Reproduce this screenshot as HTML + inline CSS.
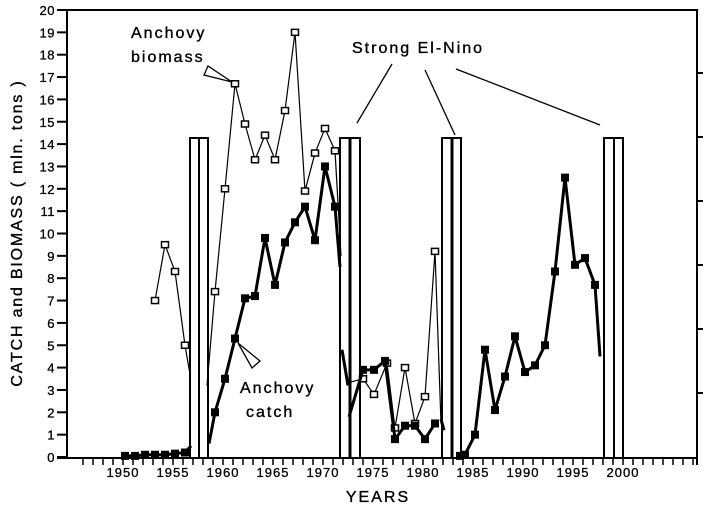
<!DOCTYPE html>
<html><head><meta charset="utf-8"><style>
html,body{margin:0;padding:0;background:#fff;}
svg{display:block;font-family:"Liberation Sans",Arial,sans-serif;}
</style></head><body>
<svg width="713" height="506" viewBox="0 0 713 506" xmlns="http://www.w3.org/2000/svg">
<rect width="713" height="506" fill="#fff"/>
<polyline points="67,10 697,10 697,458" fill="none" stroke="#000" stroke-width="2"/>
<line x1="67" y1="10" x2="67" y2="458" stroke="#000" stroke-width="2"/>
<line x1="57" y1="458" x2="697" y2="458" stroke="#000" stroke-width="2"/>
<g stroke="#000" stroke-width="2">
<line x1="697" y1="73" x2="703" y2="73"/><line x1="697" y1="137" x2="703" y2="137"/>
<line x1="697" y1="201" x2="703" y2="201"/><line x1="697" y1="265" x2="703" y2="265"/>
<line x1="697" y1="329" x2="703" y2="329"/><line x1="697" y1="393" x2="703" y2="393"/>
<line x1="697" y1="458" x2="697" y2="465"/>
</g>
<g id="yt" stroke="#000" stroke-width="2"></g>
<g id="ytl" font-size="13" text-anchor="end" fill="#000" stroke="#000" stroke-width="0.3" letter-spacing="0.5"></g>
<g id="xt" stroke="#000" stroke-width="1.5"></g>
<g id="xtl" font-size="13" text-anchor="middle" fill="#000" stroke="#000" stroke-width="0.3" letter-spacing="1"></g>
<g fill="none" stroke="#000" stroke-width="2">
<rect x="190" y="138" width="9" height="320"/><rect x="199" y="138" width="9" height="320"/>
<rect x="340" y="138" width="10" height="320"/><rect x="350" y="138" width="10" height="320"/>
<rect x="442" y="138" width="10" height="320"/><rect x="452" y="138" width="9" height="320"/>
<rect x="604" y="138" width="10" height="320"/><rect x="614" y="138" width="9" height="320"/>
</g>
<line x1="350" y1="138" x2="350" y2="458" stroke="#000" stroke-width="3"/>
<line x1="452" y1="138" x2="452" y2="458" stroke="#000" stroke-width="3"/>
<g id="series"></g>
<g font-size="16" fill="#000" stroke="#000" stroke-width="0.35">
<text x="131" y="38" letter-spacing="2">Anchovy</text>
<text x="131" y="62" letter-spacing="2">biomass</text>
<text x="352" y="53" letter-spacing="2">Strong  El-Nino</text>
<text x="240" y="393" letter-spacing="2">Anchovy</text>
<text x="246" y="417" letter-spacing="2">catch</text>
<text x="378" y="502" text-anchor="middle" letter-spacing="2">YEARS</text>
<text transform="translate(22,233) rotate(-90)" text-anchor="middle" letter-spacing="1.8">CATCH and BIOMASS ( mln. tons )</text>
</g>
<g stroke="#000" stroke-width="1.3" fill="none">
<line x1="392" y1="64" x2="357" y2="123"/>
<line x1="425" y1="70" x2="455" y2="135"/>
<line x1="456" y1="69" x2="600" y2="125"/>
<polygon points="232,82 208,66 204,75" fill="#fff"/>
<polygon points="238,343 252,368 260,361" fill="#fff"/>
</g>
<script>
const Y=v=>457-22.35*v, X=y=>125+10*(y-1950);
const ns="http://www.w3.org/2000/svg";
function el(p,t,a){const e=document.createElementNS(ns,t);for(const k in a)e.setAttribute(k,a[k]);p.appendChild(e);return e;}
const yt=document.getElementById('yt'),ytl=document.getElementById('ytl');
for(let i=0;i<=20;i++){const y=Y(i);el(yt,'line',{x1:57,y1:y,x2:67,y2:y});const t=el(ytl,'text',{x:55,y:y+5});t.textContent=i;}
const xt=document.getElementById('xt'),xtl=document.getElementById('xtl');
for(let yr=1946;yr<=2007;yr++){const x=123+10*(yr-1950);if(x<67||x>697)continue;el(xt,'line',{x1:x,y1:458,x2:x,y2:465});}
for(let yr=1950;yr<=2000;yr+=5){const t=el(xtl,'text',{x:123+10*(yr-1950),y:477});t.textContent=yr;}
const S=document.getElementById('series');
function line(pts,w){el(S,'polyline',{points:pts.map(p=>X(p[0])+','+Y(p[1])).join(' '),fill:'none',stroke:'#000','stroke-width':w,'stroke-linejoin':'round'});}
function opens(pts){pts.forEach(p=>el(S,'rect',{x:X(p[0])-3.5,y:Y(p[1])-3,width:7,height:6,fill:'#fff',stroke:'#000','stroke-width':1.5}));}
function fills(pts){pts.forEach(p=>el(S,'rect',{x:X(p[0])-4,y:Y(p[1])-4,width:8,height:8,fill:'#000'}));}
const b1=[[1953,7.0],[1954,9.5],[1955,8.3],[1956,5.0]];
const b2=[[1959,7.4],[1960,12.0],[1961,16.7],[1962,14.9],[1963,13.3],[1964,14.4],[1965,13.3],[1966,15.5],[1967,19.0],[1968,11.9],[1969,13.6],[1970,14.7],[1971,13.7]];
const b3=[[1973.8,3.5],[1974.9,2.8],[1976.2,4.2],[1977,1.3],[1978,4.0],[1979,1.5],[1980,2.7],[1981,9.2]];
line(b1.concat([[1956.5,3.7]]),1.2);
line([[1958.2,3.2]].concat(b2,[[1971.6,9.0]]),1.2);
line([[1972.1,3.3]].concat(b3,[[1981.6,1.5]]),1.2);
opens(b1);opens(b2);opens(b3);
const c1=[[1950,0.05],[1951,0.05],[1952,0.1],[1953,0.1],[1954,0.1],[1955,0.15],[1956,0.2]];
const c2=[[1959,2.0],[1960,3.5],[1961,5.3],[1962,7.1],[1963,7.2],[1964,9.8],[1965,7.7],[1966,9.6],[1967,10.5],[1968,11.2],[1969,9.7],[1970,13.0],[1971,11.2]];
const c3=[[1973.8,3.9],[1974.9,3.9],[1976,4.3],[1977,0.8],[1978,1.4],[1979,1.4],[1980,0.8],[1981,1.5]];
const c4=[[1983.5,0.05],[1984,0.1],[1985,1.0],[1986,4.8],[1987,2.1],[1988,3.6],[1989,5.4],[1990,3.8],[1991,4.1],[1992,5.0],[1993,8.3],[1994,12.5],[1995,8.6],[1996,8.9],[1997,7.7]];
line(c1.concat([[1956.6,0.5]]),3);
line([[1958.4,0.6]].concat(c2,[[1971.5,8.5]]),3);
line([[1971.7,4.8],[1972.3,3.2]],3);
line([[1972.4,1.8]].concat(c3),3);
line([[1981.6,1.7],[1981.9,1.2]],3);
line(c4.concat([[1997.5,4.5]]),3);
fills(c1);fills(c2);fills(c3);fills(c4);
</script>
</svg>
</body></html>
